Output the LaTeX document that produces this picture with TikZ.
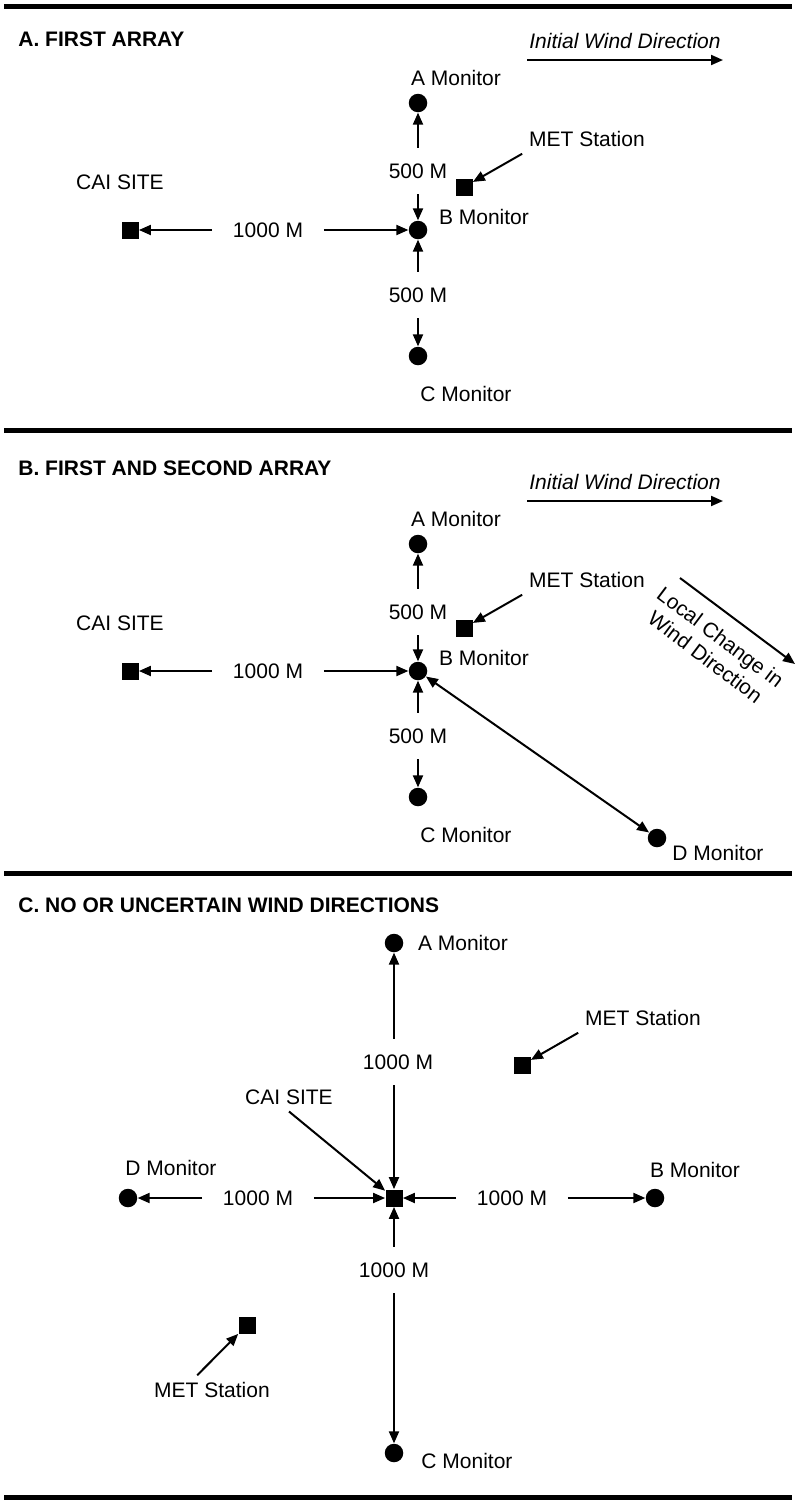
\documentclass[tikz,border=0pt]{standalone}
\usepackage{fontspec}
\setmainfont{Liberation Sans}
\usetikzlibrary{arrows.meta, calc}

\newcommand{\lbfont}{\fontsize{10.5}{12.5}\selectfont}

\tikzset{
	dot/.style={circle, fill=black, inner sep=0pt, minimum size=9.25pt},
	sqr/.style={rectangle, fill=black, inner sep=0pt, minimum size=8.5pt},
	arr/.style={-{Triangle[length=6pt,width=5pt]}, line width=1pt},
	dbl/.style={{Triangle[length=6pt,width=5pt]}-{Triangle[length=6pt,width=5pt]}, line width=1pt},
	dist/.style={inner xsep=10.25pt, inner ysep=7.7pt},
	ttl/.style={anchor=west, inner sep=0pt, font=\lbfont\bfseries},
	rul/.style={line width=2.5pt}
}

\begin{document}
\begin{tikzpicture}[x=0.5pt, y=-0.5pt, font=\lbfont]
				\useasboundingbox (0,0) rectangle (796,1500);
				\draw[rul] (4,6) -- (792,6);
				\draw[rul] (4,430) -- (792,430);
				\draw[rul] (4,873) -- (792,873);
				\draw[rul] (4,1497) -- (792,1497);
				\node[ttl] (ttlA) at (18,39) {A. FIRST ARRAY};
				\node[ttl] (ttlB) at (18,468) {B. FIRST AND SECOND ARRAY};
				\node[ttl] (ttlC) at (18,905) {C. NO OR UNCERTAIN WIND DIRECTIONS};
				\foreach \p/\o in {A/0,B/441}{
					\node[inner sep=0pt] (iwd\p) at (625,41+\o) {\itshape Initial Wind Direction};
					\coordinate (iws\p) at (527,60+\o);
					\coordinate (iwe\p) at (723,60+\o);
					\draw[arr] (iws\p) -- (iwe\p);
					\node[dot] (monA\p) at (418,103+\o) {};
					\node (lblA\p) at (456,78+\o) {A Monitor};
					\node[dist] (dn\p) at (418,171+\o) {500 M};
					\node[sqr] (met\p) at (464,187+\o) {};
					\node (lblmet\p) at (587,139+\o) {MET Station};
					\node[dot] (monB\p) at (418,230+\o) {};
					\node (lblB\p) at (484,217+\o) {B Monitor};
					\node[sqr] (cai\p) at (130,230+\o) {};
					\node (lblcai\p) at (120,182+\o) {CAI SITE};
					\node[dist] (dh\p) at (268,230+\o) {1000 M};
					\node[dist] (ds\p) at (418,295+\o) {500 M};
					\node[dot] (monC\p) at (418,356+\o) {};
					\node (lblC\p) at (466,394+\o) {C Monitor};
					\draw[arr] (dn\p) -- (monA\p);
					\draw[arr] (dn\p) -- (monB\p);
					\draw[arr] (lblmet\p.south west) -- (met\p);
					\draw[arr] (dh\p) -- (cai\p);
					\draw[arr] (dh\p) -- (monB\p);
					\draw[arr] (ds\p) -- (monB\p);
					\draw[arr] (ds\p) -- (monC\p);
				}
				\node[dot] (monDB) at (657,838) {};
				\node (lblDB) at (718,853) {D Monitor};
				\draw[dbl] (monBB) -- (monDB);
				\coordinate (lcs) at (680,578);
				\coordinate (lce) at (795,664);
				\draw[arr] (lcs) -- (lce);
				\node[rotate=-37, align=center] (lcw) at (713,647) {Local Change in\\Wind Direction};
				\node[sqr] (caiC) at (394,1198) {};
				\node (lblcaiC) at (289,1097) {CAI SITE};
				\node[dot] (monAC) at (394,943) {};
				\node (lblAC) at (463,943) {A Monitor};
				\node[dist] (dnC) at (398,1062) {1000 M};
				\node[sqr] (metC) at (522,1065) {};
				\node (lblmetC) at (643,1018) {MET Station};
				\node[dot] (monDC) at (128,1198) {};
				\node (lblDC) at (171,1168) {D Monitor};
				\node[dist] (dwC) at (258,1198) {1000 M};
				\node[dot] (monBC) at (655,1198) {};
				\node (lblBC) at (695,1170) {B Monitor};
				\node[dist] (deC) at (512,1198) {1000 M};
				\node[dist] (dsC) at (394,1270) {1000 M};
				\node[dot] (monCC) at (394,1453) {};
				\node (lblCC) at (467,1461) {C Monitor};
				\node[sqr] (metD) at (247,1325) {};
				\node (lblmetD) at (212,1390) {MET Station};
				\draw[arr] (dnC.north -| monAC) -- (monAC);
				\draw[arr] (dnC.south -| caiC) -- (caiC);
				\draw[arr] (lblmetC.south west) -- (metC);
				\draw[arr] (lblcaiC.south) -- (caiC);
				\draw[arr] (dwC) -- (monDC);
				\draw[arr] (dwC) -- (caiC);
				\draw[arr] (deC) -- (caiC);
				\draw[arr] (deC) -- (monBC);
				\draw[arr] (dsC.north -| caiC) -- (caiC);
				\draw[arr] (dsC.south -| monCC) -- (monCC);
				\draw[arr] (lblmetD.135) -- (metD);
			\end{tikzpicture}
\end{document}
